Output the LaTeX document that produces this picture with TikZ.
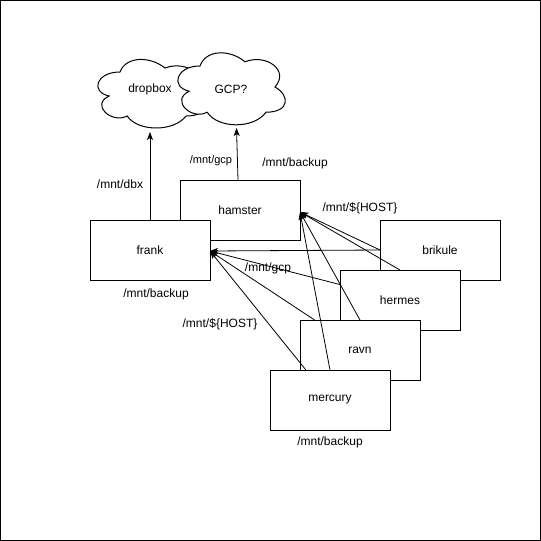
\documentclass[tikz,border=0pt]{standalone}
\usepackage{fontspec}
\setmainfont{Liberation Sans}
\usetikzlibrary{arrows.meta}
\begin{document}
\begin{tikzpicture}[x=1pt,y=-1pt,
  hostbox/.style={draw=black,fill=white,line width=1pt,minimum width=120pt,minimum height=60pt,inner sep=0pt,outer sep=0pt,font=\fontsize{12}{14}\selectfont},
  lbl/.style={inner sep=0pt,font=\fontsize{12}{14}\selectfont},
  smalllbl/.style={inner sep=0pt,font=\fontsize{11}{13}\selectfont},
  cloudpath/.style={draw=black,fill=white,line width=1pt},
  conn/.style={draw=black,line width=0.8pt,-{Stealth[length=8pt,width=6pt,inset=2pt]}}]
\useasboundingbox (0,0) rectangle (541,541);
\draw[line width=1pt] (0.5,0.5) rectangle (540,540);

% clouds
\begin{scope}[shift={(90,52)},x=120pt,y=-80pt]
\path[cloudpath] (0.25,0.25) .. controls (0.05,0.25) and (0,0.5) .. (0.16,0.55)
 .. controls (0,0.66) and (0.18,0.9) .. (0.31,0.8)
 .. controls (0.4,1) and (0.7,1) .. (0.8,0.8)
 .. controls (1,0.8) and (1,0.6) .. (0.875,0.5)
 .. controls (1,0.3) and (0.8,0.1) .. (0.625,0.2)
 .. controls (0.5,0.05) and (0.3,0.05) .. (0.25,0.25) -- cycle;
\end{scope}
\node[lbl] (dropbox) at (150,89) {dropbox};
\begin{scope}[shift={(170,45)},x=120pt,y=-84pt]
\path[cloudpath] (0.25,0.25) .. controls (0.05,0.25) and (0,0.5) .. (0.16,0.55)
 .. controls (0,0.66) and (0.18,0.9) .. (0.31,0.8)
 .. controls (0.4,1) and (0.7,1) .. (0.8,0.8)
 .. controls (1,0.8) and (1,0.6) .. (0.875,0.5)
 .. controls (1,0.3) and (0.8,0.1) .. (0.625,0.2)
 .. controls (0.5,0.05) and (0.3,0.05) .. (0.25,0.25) -- cycle;
\end{scope}
\node[lbl] (gcp) at (231,89) {GCP?};
\coordinate (dbtip) at (150,132);
\coordinate (gcptip) at (236.5,128);

% hosts
\node[hostbox] (hamster) at (240,210) {hamster};
\node[hostbox] (frank) at (150,250) {frank};
\node[hostbox] (brikule) at (440,250) {brikule};
\node[hostbox] (hermes) at (400,300) {hermes};
\node[hostbox] (ravn) at (360,350) {ravn};
\node[hostbox] (mercury) at (330,400) {mercury};

\coordinate (ftip) at (210,251);
\coordinate (htip) at (300,212);
\coordinate (hamtop) at (238,180);

% connectors
\draw[conn] (frank.north) -- (dbtip);
\draw[conn] (hamtop) -- (gcptip);
\draw[conn] (brikule.west) -- (ftip);
\draw[conn] (brikule.west) -- (htip);
\draw[conn] (hermes) -- (ftip);
\draw[conn] (hermes.north) -- (htip);
\draw[conn] (ravn) -- (ftip);
\draw[conn] (ravn.north) -- (htip);
\draw[conn] (mercury) -- (ftip);
\draw[conn] (mercury.north) -- (htip);

% labels
\node[lbl] (l1) at (120,184) {/mnt/dbx};
\node[smalllbl] (l2) at (211,161) {/mnt/gcp};
\node[lbl] (l3) at (295,163) {/mnt/backup};
\node[lbl] (l4) at (360,208) {/mnt/\$\{HOST\}};
\node[lbl] (l5) at (156,294) {/mnt/backup};
\node[lbl] (l6) at (268,268) {/mnt/gcp};
\node[lbl] (l7) at (220,324) {/mnt/\$\{HOST\}};
\node[lbl] (l8) at (330,442) {/mnt/backup};
\end{tikzpicture}
\end{document}
